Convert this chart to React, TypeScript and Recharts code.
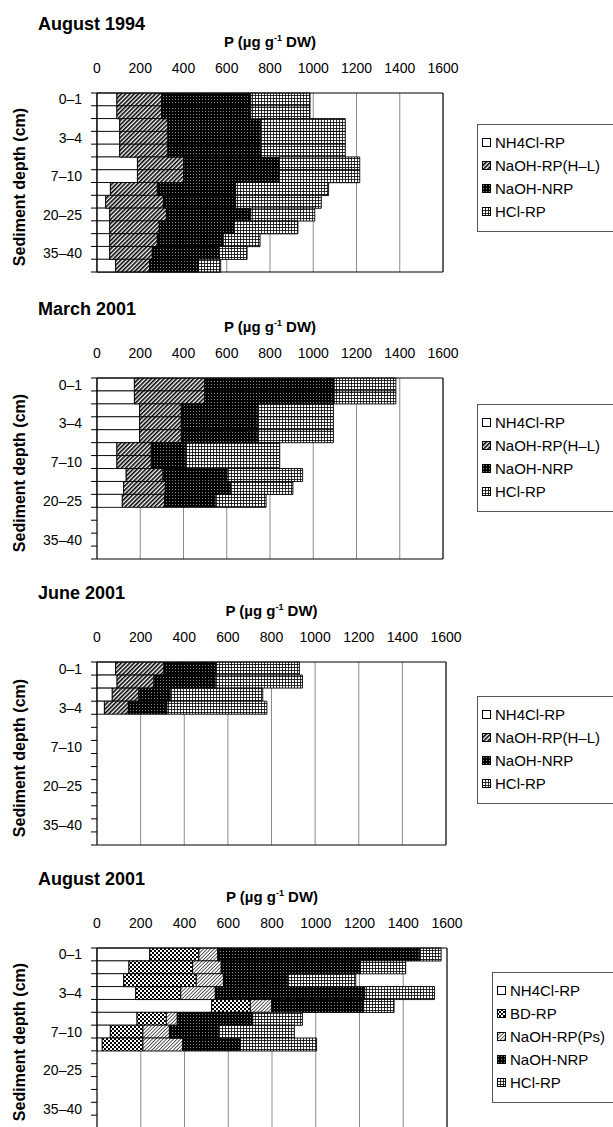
import { BarChart, Bar, XAxis, YAxis, CartesianGrid } from "recharts";

const depths = ["0–1", "1–2", "2–3", "3–4", "4–5", "5–7", "7–10", "10–15", "15–20", "20–25", "25–30", "30–35", "35–40", "40–45"];
const xTicks = [0, 200, 400, 600, 800, 1000, 1200, 1400, 1600];

// August 1994 (segment widths, µg/g DW)
const aug94NH4Cl = [92, 92, 105, 105, 105, 187, 187, 62, 40, 59, 59, 59, 59, 86];
const aug94NaOHRP = [207, 207, 223, 223, 223, 214, 214, 217, 267, 262, 229, 220, 197, 158];
const aug94NRP = [412, 412, 429, 429, 429, 441, 441, 362, 334, 390, 346, 305, 308, 225];
const aug94HCl = [274, 274, 391, 391, 391, 373, 373, 430, 396, 296, 295, 170, 130, 103];

// March 2001
const mar01NH4Cl = [173, 173, 197, 197, 197, 92, 92, 135, 123, 117];
const mar01NaOHRP = [325, 325, 193, 193, 193, 159, 159, 170, 193, 196];
const mar01NRP = [599, 599, 354, 354, 354, 160, 160, 297, 302, 234];
const mar01HCl = [285, 285, 349, 349, 349, 434, 434, 349, 288, 235];

// June 2001
const jun01NH4Cl = [85, 92, 70, 34];
const jun01NaOHRP = [222, 169, 122, 110];
const jun01NRP = [238, 281, 144, 177];
const jun01HCl = [383, 400, 424, 458];

// August 2001
const aug01NH4Cl = [241, 146, 122, 177, 524, 183, 61, 24];
const aug01BD = [225, 291, 332, 206, 177, 134, 149, 186];
const aug01Ps = [86, 131, 124, 158, 98, 50, 121, 182];
const aug01NRP = [923, 636, 294, 683, 420, 345, 225, 262];
const aug01HCl = [98, 207, 311, 319, 139, 227, 346, 350];

type Series = { key: string; name: string; fill: string; values: number[] };

const FONT = '"Liberation Sans", Arial, Helvetica, sans-serif';

const panels: {
  title: string;
  top: number;
  height: number;
  right: number;
  legendTop: number;
  legendLeft: number;
  series: Series[];
}[] = [
  {
    title: "August 1994", top: 93, height: 179, right: 443, legendTop: 124, legendLeft: 477,
    series: [
      { key: "nh4", name: "NH4Cl-RP", fill: "#fff", values: aug94NH4Cl },
      { key: "rp", name: "NaOH-RP(H–L)", fill: "url(#pHatch)", values: aug94NaOHRP },
      { key: "nrp", name: "NaOH-NRP", fill: "url(#pDots)", values: aug94NRP },
      { key: "hcl", name: "HCl-RP", fill: "url(#pGrid)", values: aug94HCl },
    ],
  },
  {
    title: "March 2001", top: 378, height: 181, right: 443, legendTop: 404, legendLeft: 477,
    series: [
      { key: "nh4", name: "NH4Cl-RP", fill: "#fff", values: mar01NH4Cl },
      { key: "rp", name: "NaOH-RP(H–L)", fill: "url(#pHatch)", values: mar01NaOHRP },
      { key: "nrp", name: "NaOH-NRP", fill: "url(#pDots)", values: mar01NRP },
      { key: "hcl", name: "HCl-RP", fill: "url(#pGrid)", values: mar01HCl },
    ],
  },
  {
    title: "June 2001", top: 662, height: 183, right: 446, legendTop: 696, legendLeft: 477,
    series: [
      { key: "nh4", name: "NH4Cl-RP", fill: "#fff", values: jun01NH4Cl },
      { key: "rp", name: "NaOH-RP(H–L)", fill: "url(#pHatch)", values: jun01NaOHRP },
      { key: "nrp", name: "NaOH-NRP", fill: "url(#pDots)", values: jun01NRP },
      { key: "hcl", name: "HCl-RP", fill: "url(#pGrid)", values: jun01HCl },
    ],
  },
  {
    title: "August 2001", top: 948, height: 180, right: 447, legendTop: 972, legendLeft: 492,
    series: [
      { key: "nh4", name: "NH4Cl-RP", fill: "#fff", values: aug01NH4Cl },
      { key: "bd", name: "BD-RP", fill: "url(#pCheck)", values: aug01BD },
      { key: "ps", name: "NaOH-RP(Ps)", fill: "url(#pFine)", values: aug01Ps },
      { key: "nrp", name: "NaOH-NRP", fill: "url(#pDots)", values: aug01NRP },
      { key: "hcl", name: "HCl-RP", fill: "url(#pGrid)", values: aug01HCl },
    ],
  },
];

const Patterns = () => (
  <svg width={0} height={0} style={{ position: "absolute" }}>
    <defs>
      <pattern id="pHatch" width="3" height="3" patternUnits="userSpaceOnUse" patternTransform="rotate(45)">
        <rect width="3" height="3" fill="#fff" />
        <rect width="1.6" height="3" fill="#000" />
      </pattern>
      <pattern id="pDots" width="3" height="3" patternUnits="userSpaceOnUse">
        <rect width="3" height="3" fill="#000" />
        <rect x="1" y="1" width="1" height="1" fill="#8a8a8a" />
      </pattern>
      <pattern id="pGrid" width="3" height="3" patternUnits="userSpaceOnUse">
        <rect width="3" height="3" fill="#fff" />
        <rect width="3" height="0.8" fill="#000" />
        <rect width="0.8" height="3" fill="#000" />
      </pattern>
      <pattern id="pCheck" width="4" height="4" patternUnits="userSpaceOnUse">
        <rect width="4" height="4" fill="#fff" />
        <rect width="2" height="2" fill="#000" />
        <rect x="2" y="2" width="2" height="2" fill="#000" />
      </pattern>
      <pattern id="pFine" width="2.5" height="2.5" patternUnits="userSpaceOnUse" patternTransform="rotate(45)">
        <rect width="2.5" height="2.5" fill="#fff" />
        <rect width="0.8" height="2.5" fill="#333" />
      </pattern>
    </defs>
  </svg>
);

const DepthTick = (props: any) => {
  const { x, y, payload, index, band } = props;
  const lx = x + 9;
  return (
    <g>
      <line x1={lx} x2={lx + 6} y1={y - band / 2} y2={y - band / 2} stroke="#000" />
      {index === depths.length - 1 && (
        <line x1={lx} x2={lx + 6} y1={y + band / 2} y2={y + band / 2} stroke="#000" />
      )}
      {index % 3 === 0 && (
        <text x={x} y={y} dy="0.36em" textAnchor="end" fontSize={14} fill="#000" fontFamily={FONT}>
          {payload.value}
        </text>
      )}
    </g>
  );
};

const Panel = ({ p }: { p: (typeof panels)[number] }) => {
  const axisH = 40;
  const data = depths.map((d, i) => {
    const row: Record<string, any> = { depth: d };
    p.series.forEach((s) => {
      row[s.key] = s.values[i] ?? null;
    });
    return row;
  });
  const band = p.height / depths.length;
  return (
    <>
      <div style={{ position: "absolute", left: 38, top: p.top - 79, fontSize: 18, fontWeight: "bold", lineHeight: "20px", whiteSpace: "nowrap" }}>
        {p.title}
      </div>
      <div style={{ position: "absolute", left: 97, width: p.right - 97, top: p.top - 60, fontSize: 15, fontWeight: "bold", lineHeight: "17px", textAlign: "center", whiteSpace: "nowrap" }}>
        P (µg g<sup style={{ fontSize: 9, verticalAlign: "6px", lineHeight: 0 }}>-1</sup> DW)
      </div>
      <div
        style={{
          position: "absolute", left: 20 - 110, width: 220, top: p.top + p.height / 2 + 4 - 9, height: 18,
          lineHeight: "18px", fontSize: 16, fontWeight: "bold", textAlign: "center", transform: "rotate(-90deg)", whiteSpace: "nowrap",
        }}
      >
        Sediment depth (cm)
      </div>
      <div style={{ position: "absolute", left: 0, top: p.top - axisH }}>
        <BarChart
          layout="vertical"
          width={613}
          height={axisH + p.height + 1}
          data={data}
          margin={{ top: 0, right: 613 - p.right - 1, bottom: 0, left: 0 }}
          barCategoryGap={0}
          barGap={0}
        >
          <CartesianGrid xAxisId="top" yAxisId="left" horizontal={false} stroke="#8c8c8c" />
          <XAxis
            xAxisId="top" orientation="top" type="number" domain={[0, 1600]} ticks={xTicks} interval={0}
            height={axisH} tickLine={false} tickSize={6} tickMargin={14}
            axisLine={{ stroke: "#000" }} tick={{ fill: "#000", fontSize: 14, fontFamily: FONT }}
          />
          <XAxis xAxisId="bottom" orientation="bottom" type="number" domain={[0, 1600]} height={1} tick={false} tickLine={false} axisLine={{ stroke: "#000" }} />
          <YAxis
            yAxisId="left" type="category" dataKey="depth" width={97} interval={0}
            tickLine={false} tickSize={6} tickMargin={9} axisLine={{ stroke: "#000" }}
            tick={(tp: any) => <DepthTick {...tp} band={band} />}
          />
          <YAxis yAxisId="right" orientation="right" type="number" domain={[0, 1]} width={1} tick={false} tickLine={false} axisLine={{ stroke: "#000" }} />
          {p.series.map((s) => (
            <Bar
              key={s.key} xAxisId="top" yAxisId="left" dataKey={s.key} name={s.name} stackId="a"
              fill={s.fill} stroke="#000" strokeWidth={0.9} isAnimationActive={false}
            />
          ))}
        </BarChart>
      </div>
      <div
        style={{
          position: "absolute", left: p.legendLeft, top: p.legendTop, width: 150, padding: "6px 0 8px 0",
          border: "1px solid #555", background: "#fff", fontSize: 15,
        }}
      >
        {p.series.map((s) => (
          <div key={s.key} style={{ display: "flex", alignItems: "center", height: 23, whiteSpace: "nowrap" }}>
            <svg width={9} height={9} style={{ marginLeft: 4, marginRight: 4 }}>
              <rect x={0.5} y={0.5} width={8} height={8} fill={s.fill} stroke="#000" />
            </svg>
            <span>{s.name}</span>
          </div>
        ))}
      </div>
    </>
  );
};

export default function App() {
  return (
    <div style={{ position: "absolute", left: 0, top: 0, width: 613, height: 1127, overflow: "hidden", background: "#fff", fontFamily: FONT, color: "#000" }}>
      <Patterns />
      {panels.map((p) => (
        <Panel key={p.title} p={p} />
      ))}
    </div>
  );
}
